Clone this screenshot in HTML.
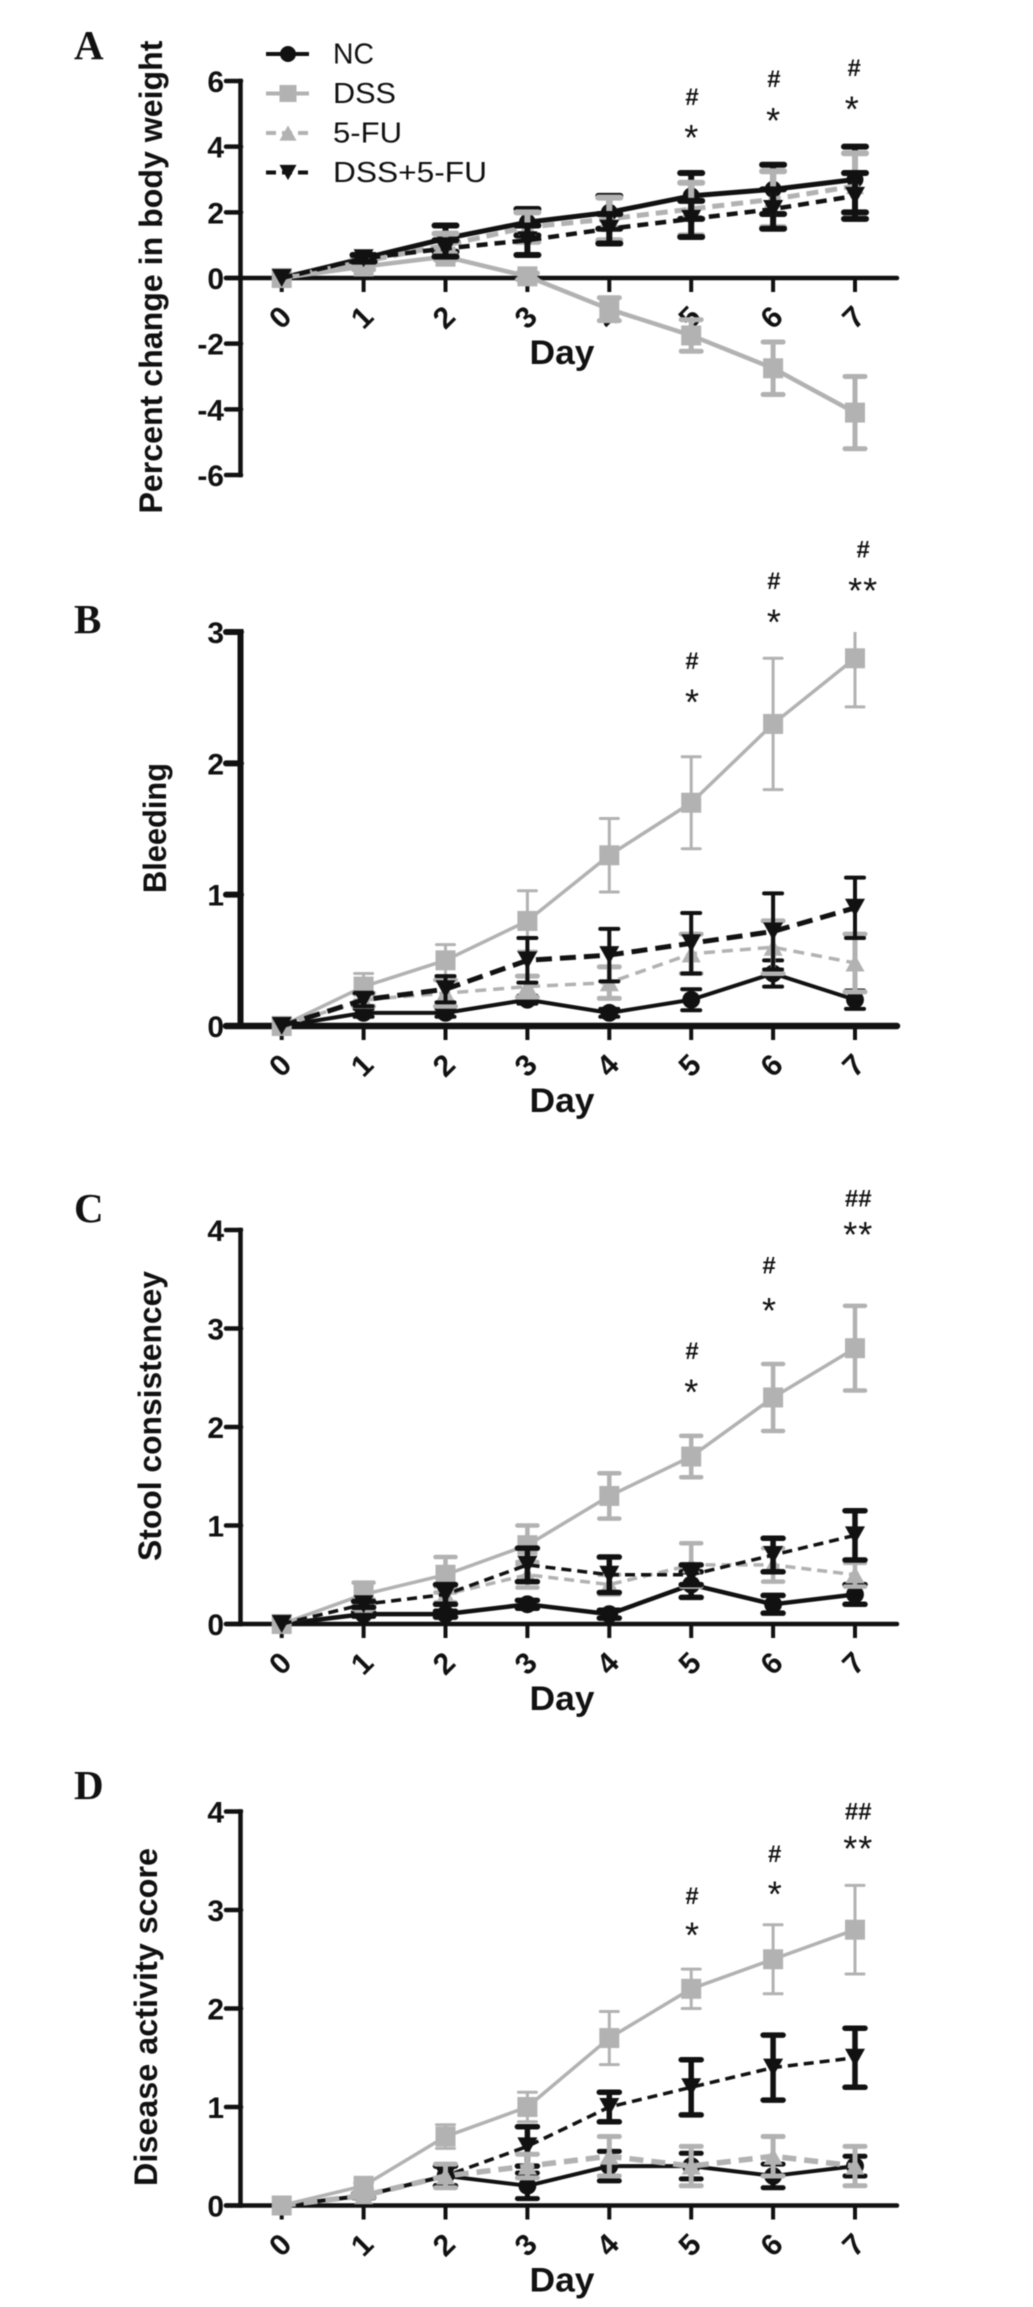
<!DOCTYPE html>
<html lang="en">
<head>
<meta charset="utf-8">
<title>Colitis time-course panels</title>
<style>
  html, body { margin: 0; padding: 0; background: #fff; }
  svg { display: block; filter: blur(0.5px); }
  text { font-family: "Liberation Sans", sans-serif; fill: #111; }
</style>
</head>
<body>
<svg id="figure" xmlns="http://www.w3.org/2000/svg" width="1033" height="2307" viewBox="0 0 1033 2307">
  <rect width="1033" height="2307" fill="#ffffff"/>
</svg>
<script>
// ---- Shared data ----
const dayLabels = [0, 1, 2, 3, 4, 5, 6, 7];
const seriesNames = ['NC', 'DSS', '5-FU', 'DSS+5-FU'];

// ---- Panel A: percent change in body weight ----
const ticksA = [-6, -4, -2, 0, 2, 4, 6];
const ncA = [0, 0.6, 1.2, 1.7, 2.0, 2.5, 2.7, 3.0];
const ncErrA = [0, 0.1, 0.4, 0.4, 0.5, 0.7, 0.75, 1.0];
const dssA = [0, 0.35, 0.65, 0.05, -0.95, -1.75, -2.75, -4.1];
const dssErrA = [0, 0.1, 0.1, 0.1, 0.35, 0.48, 0.8, 1.1];
const fuA = [0, 0.5, 1.0, 1.55, 1.8, 2.1, 2.4, 2.8];
const fuErrA = [0, 0.1, 0.35, 0.45, 0.65, 0.8, 0.85, 1.0];
const comboA = [0, 0.6, 0.9, 1.15, 1.5, 1.8, 2.1, 2.5];
const comboErrA = [0, 0.1, 0.25, 0.45, 0.45, 0.55, 0.6, 0.7];
const hashDaysA = [5.01, 6.01, 6.99];
const hashLevelsA = [5.51, 6.06, 6.4];
const hashTextA = ['#', '#', '#'];
const starDaysA = [5.0, 6.0, 6.96];
const starLevelsA = [4.54, 5.06, 5.4];
const starTextA = ['*', '*', '*'];

// ---- Panel B: bleeding ----
const ticksB = [0, 1, 2, 3];
const ncB = [0, 0.1, 0.1, 0.2, 0.1, 0.2, 0.4, 0.2];
const ncErrB = [0, 0.03, 0.03, 0.03, 0.03, 0.08, 0.1, 0.07];
const dssB = [0, 0.3, 0.5, 0.8, 1.3, 1.7, 2.3, 2.8];
const dssErrB = [0, 0.1, 0.12, 0.23, 0.28, 0.35, 0.5, 0.37];
const fuB = [0, 0.2, 0.25, 0.3, 0.33, 0.55, 0.6, 0.48];
const fuErrB = [0, 0.05, 0.1, 0.08, 0.12, 0.15, 0.2, 0.22];
const comboB = [0, 0.2, 0.28, 0.5, 0.54, 0.63, 0.72, 0.9];
const comboErrB = [0, 0.05, 0.1, 0.17, 0.2, 0.23, 0.29, 0.23];
const hashDaysB = [5.01, 6.01, 7.1];
const hashLevelsB = [2.78, 3.39, 3.63];
const hashTextB = ['#', '#', '#'];
const starDaysB = [5.01, 6.01, 7.1];
const starLevelsB = [2.53, 3.14, 3.38];
const starTextB = ['*', '*', '**'];

// ---- Panel C: stool consistency ----
const ticksC = [0, 1, 2, 3, 4];
const ncC = [0, 0.1, 0.1, 0.2, 0.1, 0.4, 0.2, 0.3];
const ncErrC = [0, 0.02, 0.03, 0.04, 0.04, 0.13, 0.09, 0.1];
const dssC = [0, 0.3, 0.5, 0.8, 1.3, 1.7, 2.3, 2.8];
const dssErrC = [0, 0.12, 0.18, 0.2, 0.23, 0.21, 0.34, 0.43];
const fuC = [0, 0.2, 0.3, 0.5, 0.4, 0.6, 0.6, 0.5];
const fuErrC = [0, 0.05, 0.08, 0.13, 0.1, 0.22, 0.17, 0.12];
const comboC = [0, 0.2, 0.3, 0.6, 0.5, 0.5, 0.7, 0.9];
const comboErrC = [0, 0.03, 0.1, 0.17, 0.18, 0.1, 0.17, 0.25];
const hashDaysC = [5.01, 5.95, 7.04];
const hashLevelsC = [2.77, 3.64, 4.32];
const hashTextC = ['#', '#', '##'];
const starDaysC = [5.0, 5.95, 7.04];
const starLevelsC = [2.44, 3.27, 4.04];
const starTextC = ['*', '*', '**'];

// ---- Panel D: disease activity score ----
const ticksD = [0, 1, 2, 3, 4];
const ncD = [0, 0.1, 0.3, 0.2, 0.4, 0.4, 0.3, 0.4];
const ncErrD = [0, 0.02, 0.1, 0.13, 0.15, 0.13, 0.12, 0.1];
const dssD = [0, 0.2, 0.7, 1.0, 1.7, 2.2, 2.5, 2.8];
const dssErrD = [0, 0.03, 0.12, 0.15, 0.27, 0.2, 0.35, 0.45];
const fuD = [0, 0.1, 0.3, 0.4, 0.5, 0.4, 0.5, 0.4];
const fuErrD = [0, 0.02, 0.12, 0.12, 0.2, 0.2, 0.2, 0.2];
const comboD = [0, 0.1, 0.3, 0.6, 1.0, 1.2, 1.4, 1.5];
const comboErrD = [0, 0.02, 0.1, 0.2, 0.15, 0.28, 0.33, 0.3];
const hashDaysD = [5.01, 6.02, 7.04];
const hashLevelsD = [3.14, 3.57, 4.0];
const hashTextD = ['#', '#', '##'];
const starDaysD = [5.01, 6.02, 7.04];
const starLevelsD = [2.83, 3.25, 3.71];
const starTextD = ['*', '*', '**'];

// ---- Rendering ----
const SVG_NS = 'http://www.w3.org/2000/svg';
const figure = document.getElementById('figure');
const BLACK = '#111111';
const GREY = '#b2b2b2';

function make(tag, attrs, parent) {
  const node = document.createElementNS(SVG_NS, tag);
  for (const key in attrs) node.setAttribute(key, attrs[key]);
  parent.appendChild(node);
  return node;
}

function xScale(day) {
  return 281.7 + day * 81.9;
}

function drawMarker(kind, cx, cy, color, group, size) {
  let m;
  if (kind === 'circle') {
    m = make('circle', { cx: cx, cy: cy, r: size * 0.47, fill: color }, group);
  } else if (kind === 'square') {
    m = make('rect', { x: cx - size / 2, y: cy - size / 2, width: size, height: size, fill: color }, group);
  } else if (kind === 'up') {
    m = make('polygon', { points: (cx - size / 2) + ',' + (cy + size * 0.45) + ' ' + (cx + size / 2) + ',' + (cy + size * 0.45) + ' ' + cx + ',' + (cy - size * 0.45), fill: color }, group);
  } else {
    m = make('polygon', { points: (cx - size / 2) + ',' + (cy - size * 0.45) + ' ' + (cx + size / 2) + ',' + (cy - size * 0.45) + ' ' + cx + ',' + (cy + size * 0.45), fill: color }, group);
  }
  
  
}

function drawSeries(panel, s, y) {
  const group = make('g', {}, panel);
  
  
  const yTop = s.yMax;
  s.values.forEach(function (v, i) {
    const err = s.errors[i];
    if (!err) return;
    const cx = xScale(dayLabels[i]);
    const hi = v + err;
    const lo = v - err;
    const clipped = hi > yTop;
    const bar = make('line', { x1: cx, x2: cx, y1: y(clipped ? yTop : hi), y2: y(lo), stroke: s.color, 'stroke-width': s.errWidth }, group);
    
    
    const half = s.capWidth / 2;
    if (!clipped) {
      const capHi = make('line', { x1: cx - half, x2: cx + half, y1: y(hi), y2: y(hi), stroke: s.color, 'stroke-width': s.errWidth, 'stroke-linecap': 'round' }, group);
      
      
    }
    const capLo = make('line', { x1: cx - half, x2: cx + half, y1: y(lo), y2: y(lo), stroke: s.color, 'stroke-width': s.errWidth, 'stroke-linecap': 'round' }, group);
    
    
  });
  const pts = s.values.map(function (v, i) { return xScale(dayLabels[i]) + ',' + y(v); }).join(' ');
  const line = make('polyline', { points: pts, fill: 'none', stroke: s.color, 'stroke-width': s.lineWidth, 'stroke-linejoin': 'round' }, group);
  if (s.dash) line.setAttribute('stroke-dasharray', s.dash);
  
  
  s.values.forEach(function (v, i) {
    drawMarker(s.marker, xScale(dayLabels[i]), y(v), s.color, group, s.size);
  });
}

function drawPanel(p) {
  const panel = make('g', {}, figure);
  
  

  const unit = p.unit;
  const y = function (v) { return p.zero - v * unit; };
  const yMax = Math.max.apply(null, p.ticks);
  const yMin = Math.min.apply(null, p.ticks);

  const letter = make('text', { x: 74, y: p.letterY, 'font-size': 41, 'font-weight': 700, style: 'font-family:"Liberation Serif",serif' }, panel);
  letter.textContent = p.letter;
  
  

  const title = make('text', { x: 0, y: 0, 'font-size': 32, 'font-weight': 700, 'text-anchor': 'middle', textLength: p.titleLength, lengthAdjust: 'spacingAndGlyphs', transform: 'translate(' + p.titleX + ',' + p.titleY + ') rotate(-90)' }, panel);
  title.textContent = p.title;
  
  

  const xTitle = make('text', { x: 562, y: p.zero + 86, 'font-size': 34, 'font-weight': 700, 'text-anchor': 'middle', textLength: 65, lengthAdjust: 'spacingAndGlyphs' }, panel);
  xTitle.textContent = 'Day';
  
  

  p.ticks.forEach(function (t) {
    const tick = make('line', { x1: 226, x2: 241, y1: y(t), y2: y(t), stroke: BLACK, 'stroke-width': p.axisWidth, 'stroke-linecap': 'round' }, panel);
    
    
    const label = make('text', { x: 224, y: y(t) + 11, 'font-size': 30, 'font-weight': 700, 'text-anchor': 'end' }, panel);
    label.textContent = String(t);
    
    
  });

  dayLabels.forEach(function (d) {
    const tick = make('line', { x1: xScale(d), x2: xScale(d), y1: p.zero, y2: p.zero + 14, stroke: BLACK, 'stroke-width': 4 }, panel);
    
    
    const label = make('text', { x: 0, y: 0, dy: '0.36em', 'font-size': 30, 'font-weight': 700, 'text-anchor': 'middle', transform: 'translate(' + (xScale(d) - 2) + ',' + (p.zero + 39) + ') rotate(-45)' }, panel);
    label.textContent = String(d);
    
    
  });

  const yAxis = make('line', { x1: 240.5, x2: 240.5, y1: y(yMax), y2: y(yMin), stroke: BLACK, 'stroke-width': p.axisWidth, 'stroke-linecap': 'square' }, panel);
  
  

  const xAxis = make('line', { x1: 226, x2: 897, y1: p.zero, y2: p.zero, stroke: BLACK, 'stroke-width': p.xAxisWidth, 'stroke-linecap': 'round' }, panel);
  
  

  p.series.forEach(function (s) {
    s.yMax = yMax;
    drawSeries(panel, s, y);
  });

  p.hashDays.forEach(function (d, i) {
    const t = make('text', { x: xScale(d), y: y(p.hashLevels[i]) + 8, 'font-size': 24, 'font-weight': 700, 'text-anchor': 'middle' }, panel);
    t.textContent = p.hashText[i];
    
    
  });
  p.starDays.forEach(function (d, i) {
    const t = make('text', { x: xScale(d), y: y(p.starLevels[i]) + 21, 'font-size': 36, 'text-anchor': 'middle', 'letter-spacing': p.starText[i].length > 1 ? 1 : 0 }, panel);
    t.textContent = p.starText[i];
    
    
  });
}

function style(name, values, errors, color, marker, size, lineWidth, dash, errWidth, capWidth) {
  return { name: name, values: values, errors: errors, color: color, marker: marker, size: size,
           lineWidth: lineWidth, dash: dash, errWidth: errWidth, capWidth: capWidth };
}

drawPanel({
  letter: 'A', letterY: 59, title: 'Percent change in body weight', titleX: 162, titleY: 277, titleLength: 473,
  unit: 32.83, zero: 278, axisWidth: 4.5, xAxisWidth: 4.5, ticks: ticksA,
  hashDays: hashDaysA, hashLevels: hashLevelsA, hashText: hashTextA,
  starDays: starDaysA, starLevels: starLevelsA, starText: starTextA,
  series: [
    style(seriesNames[0], ncA, ncErrA, BLACK, 'circle', 18, 5, '', 6, 22),
    style(seriesNames[1], dssA, dssErrA, GREY, 'square', 20, 4.5, '', 5, 20),
    style(seriesNames[2], fuA, fuErrA, GREY, 'up', 18, 5, '12 7', 6, 22),
    style(seriesNames[3], comboA, comboErrA, BLACK, 'down', 20, 4.5, '11 7', 6, 22)
  ]
});

drawPanel({
  letter: 'B', letterY: 633, title: 'Bleeding', titleX: 166, titleY: 828, titleLength: 130,
  unit: 131.33, zero: 1026, axisWidth: 6, xAxisWidth: 6.5, ticks: ticksB,
  hashDays: hashDaysB, hashLevels: hashLevelsB, hashText: hashTextB,
  starDays: starDaysB, starLevels: starLevelsB, starText: starTextB,
  series: [
    style(seriesNames[0], ncB, ncErrB, BLACK, 'circle', 19, 4, '', 4, 18),
    style(seriesNames[1], dssB, dssErrB, GREY, 'square', 20, 3.5, '', 3, 18),
    style(seriesNames[2], fuB, fuErrB, GREY, 'up', 19, 3.5, '11 7', 5, 20),
    style(seriesNames[3], comboB, comboErrB, BLACK, 'down', 20, 5, '16 8', 4, 18)
  ]
});

drawPanel({
  letter: 'C', letterY: 1222, title: 'Stool consistencey', titleX: 161, titleY: 1416, titleLength: 290,
  unit: 98.5, zero: 1624, axisWidth: 4.5, xAxisWidth: 4.5, ticks: ticksC,
  hashDays: hashDaysC, hashLevels: hashLevelsC, hashText: hashTextC,
  starDays: starDaysC, starLevels: starLevelsC, starText: starTextC,
  series: [
    style(seriesNames[0], ncC, ncErrC, BLACK, 'circle', 19, 4.5, '', 5.5, 20),
    style(seriesNames[1], dssC, dssErrC, GREY, 'square', 20, 3.5, '', 4.5, 20),
    style(seriesNames[2], fuC, fuErrC, GREY, 'up', 19, 3.5, '10 6', 4.5, 20),
    style(seriesNames[3], comboC, comboErrC, BLACK, 'down', 20, 3.5, '10 6', 5.5, 20)
  ]
});

drawPanel({
  letter: 'D', letterY: 1799, title: 'Disease activity score', titleX: 157, titleY: 2017, titleLength: 338,
  unit: 98.5, zero: 2205.5, axisWidth: 4.5, xAxisWidth: 4.5, ticks: ticksD,
  hashDays: hashDaysD, hashLevels: hashLevelsD, hashText: hashTextD,
  starDays: starDaysD, starLevels: starLevelsD, starText: starTextD,
  series: [
    style(seriesNames[0], ncD, ncErrD, BLACK, 'circle', 19, 4, '', 5, 20),
    style(seriesNames[3], comboD, comboErrD, BLACK, 'down', 20, 3.5, '10 6', 5.5, 20),
    style(seriesNames[1], dssD, dssErrD, GREY, 'square', 20, 3.5, '', 3, 18),
    style(seriesNames[2], fuD, fuErrD, GREY, 'up', 19, 5.5, '14 8', 5, 20)
  ]
});

// ---- Legend ----
const legendMarkers = ['circle', 'square', 'up', 'down'];
const legendColors = [BLACK, GREY, GREY, BLACK];
const legendDashes = ['', '', '10 6', '10 6'];
const legendWidths = [41, 63, 69, 154];
const legend = make('g', {}, figure);


seriesNames.forEach(function (name, i) {
  const rowY = 54 + i * 39.5;
  const entry = make('g', {}, legend);
  
  
  const sample = make('line', { x1: 266, x2: 309, y1: rowY, y2: rowY, stroke: legendColors[i], 'stroke-width': 4 }, entry);
  if (legendDashes[i]) sample.setAttribute('stroke-dasharray', legendDashes[i]);
  
  
  drawMarker(legendMarkers[i], 288, rowY, legendColors[i], entry, 17);
  const label = make('text', { x: 333, y: rowY + 9.5, 'font-size': 29, textLength: legendWidths[i], lengthAdjust: 'spacingAndGlyphs' }, entry);
  label.textContent = name;
  
  
});
</script>
</body>
</html>
